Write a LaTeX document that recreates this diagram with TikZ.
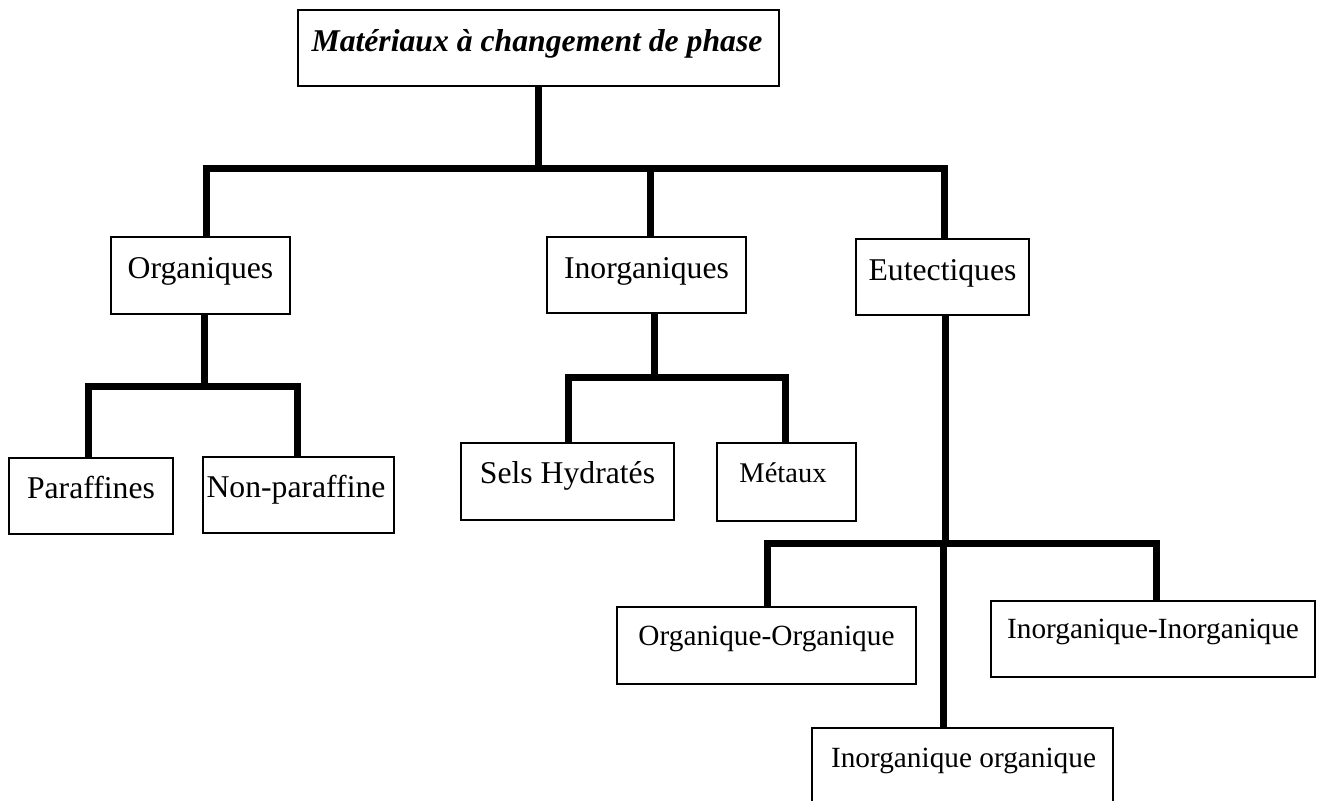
\documentclass[tikz,border=0pt]{standalone}
\usepackage{fontspec}
\setmainfont{Liberation Serif}
\begin{document}
\begin{tikzpicture}[x=1pt,y=-1pt,
  box/.style={draw, line width=2pt, inner sep=0pt, rectangle},
  lbl/.style={anchor=base, inner sep=0pt, font=\fontsize{31.7}{36}\selectfont},
  lbls/.style={anchor=base, inner sep=0pt, font=\fontsize{29.3}{34}\selectfont},
  lblm/.style={anchor=base, inner sep=0pt, font=\fontsize{28.5}{33}\selectfont},
  conn/.style={line width=7pt}]
\useasboundingbox (0,0) rectangle (1319,800);
\fill[white] (0,0) rectangle (1319,800);
\begin{scope}
\clip (0,0) rectangle (1319,800);
% boxes
\node[box, minimum width=481pt, minimum height=76pt] (top) at (538.5,48) {};
\node[box, minimum width=179pt, minimum height=77pt] (org) at (200.5,275.5) {};
\node[box, minimum width=199pt, minimum height=76pt] (inorg) at (646.5,275) {};
\node[box, minimum width=173pt, minimum height=76pt] (eut) at (942.5,277) {};
\node[box, minimum width=164pt, minimum height=76pt] (par) at (91,496) {};
\node[box, minimum width=191pt, minimum height=76pt] (nonpar) at (298.5,495) {};
\node[box, minimum width=213pt, minimum height=77pt] (sels) at (567.5,481.5) {};
\node[box, minimum width=139pt, minimum height=78pt] (met) at (786.5,482) {};
\node[box, minimum width=299pt, minimum height=77pt] (oo) at (766.5,645.5) {};
\node[box, minimum width=324pt, minimum height=76pt] (ii) at (1153,639) {};
\node[box, minimum width=301pt, minimum height=100pt] (io) at (962.5,778) {};
% labels
\node[lbl, font=\fontsize{31.7}{36}\selectfont\bfseries\itshape] (topT) at (537,52) {Matériaux à changement de phase};
\node[lbl] (orgT) at (200.5,278) {Organiques};
\node[lbl] (inorgT) at (646.5,278) {Inorganiques};
\node[lbl] (eutT) at (942.5,280) {Eutectiques};
\node[lbl] (parT) at (91,498) {Paraffines};
\node[lbl] (nonparT) at (296,497) {Non-paraffine};
\node[lbl] (selsT) at (567.5,483) {Sels Hydratés};
\node[lblm] (metT) at (783,482) {Métaux};
\node[lbls] (ooT) at (766.5,645) {Organique-Organique};
\node[lbls] (iiT) at (1153,638) {Inorganique-Inorganique};
\node[lbls] (ioT) at (963.5,767) {Inorganique organique};
% junction coordinates
\coordinate (j1) at (538.5,168);
\coordinate (j1l) at (206,168);
\coordinate (j1m) at (650,168);
\coordinate (j1r) at (944,168);
\coordinate (j2) at (204,386);
\coordinate (j2l) at (88,386);
\coordinate (j2r) at (297,386);
\coordinate (j3) at (654,377);
\coordinate (j3l) at (568,377);
\coordinate (j3r) at (785,377);
\coordinate (j4) at (945,543);
\coordinate (j4l) at (767,543);
\coordinate (j4m) at (943,543);
\coordinate (j4r) at (1156,543);
% connectors
\draw[conn] (top.south) -- (j1);
\draw[conn] (org.north -| j1l) -- (j1l) -- (j1r) -- (eut.north -| j1r);
\draw[conn] (j1m) -- (inorg.north -| j1m);
\draw[conn] (org.south -| j2) -- (j2);
\draw[conn] (par.north -| j2l) -- (j2l) -- (j2r) -- (nonpar.north -| j2r);
\draw[conn] (inorg.south -| j3) -- (j3);
\draw[conn] (sels.north -| j3l) -- (j3l) -- (j3r) -- (met.north -| j3r);
\draw[conn] (eut.south -| j4) -- (j4);
\draw[conn] (oo.north -| j4l) -- (j4l) -- (j4r) -- (ii.north -| j4r);
\draw[conn] (j4m) -- (io.north -| j4m);
\end{scope}
\end{tikzpicture}
\end{document}
